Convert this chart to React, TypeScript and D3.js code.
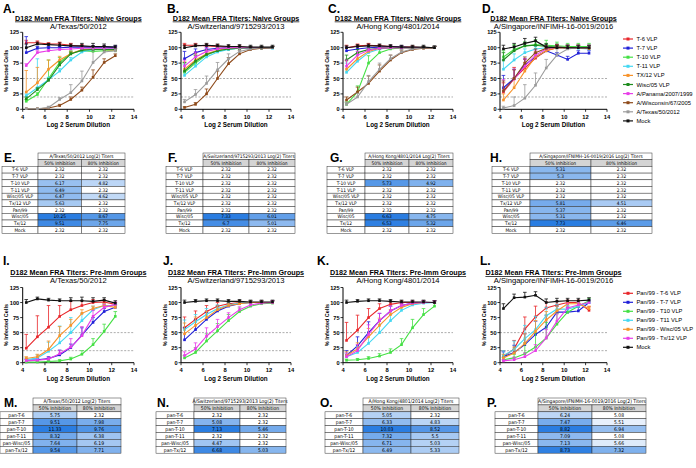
import React from "react";
import * as d3 from "d3";

// ---------- data ----------
const DILUTIONS = [4.32, 5.32, 6.32, 7.32, 8.32, 9.32, 10.32, 11.32, 12.32];
const X_TICKS = [4, 6, 8, 10, 12, 14];
const Y_TICKS = [0, 25, 50, 75, 100, 125];
const CUTOFFS = [50, 20];

const NAIVE_SERIES = ["T-6 VLP", "T-7 VLP", "T-10 VLP", "T-11 VLP", "TX/12 VLP", "Wisc/05 VLP", "A/Panama/2007/1999", "A/Wisconsin/67/2005", "A/Texas/50/2012", "Mock"];
const NAIVE_COLORS = ["#e8262a", "#2020d8", "#44e044", "#44d8f2", "#f7932b", "#1f8c1f", "#e83ee8", "#8e4a1a", "#9b9b9b", "#111111"];
const PREIMM_SERIES = ["Pan/99 - T-6 VLP", "Pan/99 - T-7 VLP", "Pan/99 - T10 VLP", "Pan/99 - T11 VLP", "Pan/99 - Wisc/05 VLP", "Pan/99 - Tx/12 VLP", "Mock"];
const PREIMM_COLORS = ["#e8262a", "#2020d8", "#44e044", "#44d8f2", "#f7932b", "#e83ee8", "#111111"];

const NAIVE_TITLE = "D182 Mean FRA Titers: Naive Groups";
const PREIMM_TITLE = "D182 Mean FRA Titers: Pre-Imm Groups";
const VIRUSES = ["A/Texas/50/2012", "A/Switzerland/9715293/2013", "A/Hong Kong/4801/2014", "A/Singapore/INFIMH-16-0019/2016"];
const TABLE_TITLES = ["A/Texas/50/2012 Log(2) Titers", "A/Switzerland/9715293/2013 Log(2) Titers", "A/Hong Kong/4801/2014 Log(2) Titers", "A/Singapore/IFNIMH-16-0019/2016 Log(2) Titers"];
const COL_HEADERS = ["50% Inhibition", "80% Inhibition"];
const NAIVE_ROWS = ["T-6 VLP", "T-7 VLP", "T-10 VLP", "T-11 VLP", "Wisc/05 VLP", "Tx/12 VLP", "Pan/99", "Wisc/05", "Tx/12", "Mock"];
const PREIMM_ROWS = ["pan-T-6", "pan-T-7", "pan-T-10", "pan-T-11", "pan-Wisc/05", "pan-Tx/12"];

// Panel A: naive vs A/Texas/50/2012
const A_VALUES = [
  [108, 108, 106, 106, 104, 102, 101, 101, 100],
  [92, 99, 100, 100, 101, 101, 101, 101, 101],
  [13, 24, 50, 76, 91, 95, 94, 95, 95],
  [22, 35, 48, 62, 80, 93, 97, 98, 99],
  [28, 43, 65, 80, 90, 97, 98, 97, 96],
  [17, 32, 47, 72, 90, 96, 97, 97, 97],
  [71, 92, 95, 97, 98, 99, 99, 99, 99],
  [1, 1, 2, 6, 16, 31, 52, 76, 87],
  [1, 1, 3, 16, 27, 46, 76, 93, 95],
  [100, 106, 105, 104, 103, 103, 102, 102, 101],
];
const A_ERRORS = [
  [4, 3, 2, 3, 3, 3, 2, 2, 2],
  [26, 3, 2, 2, 2, 2, 2, 2, 2],
  [3, 3, 30, 8, 4, 3, 3, 3, 3],
  [3, 47, 4, 4, 4, 3, 2, 2, 2],
  [35, 25, 15, 6, 4, 3, 2, 2, 2],
  [3, 3, 3, 5, 3, 3, 2, 2, 2],
  [3, 3, 2, 2, 2, 2, 2, 2, 2],
  [0, 0, 1, 2, 4, 5, 12, 6, 3],
  [0, 0, 2, 3, 13, 16, 25, 10, 4],
  [6, 3, 2, 4, 3, 4, 5, 4, 3],
];
// Panel B: naive vs A/Switzerland
const B_VALUES = [
  [104, 104, 103, 102, 101, 101, 100, 100, 100],
  [82, 92, 97, 99, 100, 100, 100, 100, 100],
  [60, 75, 88, 95, 98, 99, 100, 100, 100],
  [55, 70, 85, 93, 97, 99, 99, 99, 99],
  [65, 80, 90, 96, 99, 100, 100, 100, 100],
  [62, 78, 89, 95, 98, 99, 100, 100, 100],
  [70, 85, 94, 98, 100, 100, 100, 100, 100],
  [3, 8, 25, 50, 74, 90, 97, 99, 100],
  [12, 24, 42, 64, 82, 94, 98, 100, 100],
  [100, 103, 104, 103, 102, 102, 101, 101, 101],
];
const B_ERRORS = [
  [3, 3, 3, 3, 2, 2, 2, 2, 2],
  [12, 6, 4, 3, 2, 2, 2, 2, 2],
  [15, 12, 8, 5, 3, 2, 2, 2, 2],
  [18, 14, 8, 5, 3, 2, 2, 2, 2],
  [12, 10, 6, 4, 3, 2, 2, 2, 2],
  [14, 10, 6, 4, 3, 2, 2, 2, 2],
  [10, 8, 5, 3, 2, 2, 2, 2, 2],
  [1, 3, 8, 12, 10, 6, 3, 2, 2],
  [4, 8, 12, 12, 8, 5, 3, 2, 2],
  [4, 3, 3, 3, 3, 3, 3, 3, 3],
];
// Panel C: naive vs A/Hong Kong
const C_VALUES = [
  [100, 103, 104, 103, 102, 101, 101, 100, 100],
  [95, 98, 100, 101, 101, 101, 100, 100, 100],
  [8, 28, 75, 92, 98, 100, 100, 100, 100],
  [60, 78, 92, 98, 100, 100, 100, 100, 100],
  [65, 82, 94, 99, 100, 100, 100, 100, 100],
  [80, 92, 97, 99, 100, 100, 100, 100, 100],
  [70, 88, 96, 99, 100, 100, 100, 100, 100],
  [15, 28, 42, 62, 80, 92, 97, 99, 100],
  [8, 20, 45, 65, 82, 93, 98, 100, 100],
  [100, 102, 103, 103, 102, 101, 101, 101, 100],
];
const C_ERRORS = [
  [4, 3, 3, 2, 2, 2, 2, 2, 2],
  [6, 4, 3, 2, 2, 2, 2, 2, 2],
  [4, 10, 12, 5, 3, 2, 2, 2, 2],
  [15, 10, 5, 3, 2, 2, 2, 2, 2],
  [14, 8, 4, 2, 2, 2, 2, 2, 2],
  [8, 5, 3, 2, 2, 2, 2, 2, 2],
  [10, 6, 3, 2, 2, 2, 2, 2, 2],
  [5, 8, 12, 10, 8, 4, 2, 2, 2],
  [3, 6, 10, 10, 6, 4, 2, 2, 2],
  [3, 3, 3, 3, 3, 3, 3, 3, 3],
];
// Panel D: naive vs A/Singapore
const D_VALUES = [
  [28, 50, 67, 83, 95, 100, 100, 100, 100],
  [35, 50, 72, 85, 95, 88, 81, 91, 91],
  [85, 97, 103, 105, 104, 103, 102, 102, 102],
  [65, 80, 92, 98, 100, 101, 100, 99, 98],
  [15, 35, 62, 85, 95, 100, 100, 100, 99],
  [80, 95, 103, 104, 102, 101, 100, 100, 100],
  [30, 49, 70, 88, 98, 101, 100, 100, 100],
  [30, 50, 75, 92, 99, 101, 100, 100, 99],
  [2, 6, 18, 39, 67, 88, 98, 100, 100],
  [98, 101, 107, 111, 101, 100, 100, 100, 100],
];
const D_ERRORS = [
  [15, 18, 14, 8, 5, 4, 3, 3, 3],
  [20, 15, 10, 6, 4, 4, 5, 4, 4],
  [10, 8, 6, 8, 8, 6, 5, 5, 5],
  [15, 10, 6, 4, 4, 4, 4, 4, 4],
  [10, 15, 14, 8, 5, 4, 4, 4, 4],
  [12, 8, 6, 6, 5, 5, 4, 4, 4],
  [18, 16, 12, 8, 5, 4, 4, 4, 4],
  [16, 14, 10, 6, 4, 4, 4, 4, 4],
  [3, 14, 22, 20, 14, 10, 6, 4, 4],
  [6, 6, 8, 6, 5, 4, 4, 4, 4],
];

// Panel I: pre-imm vs A/Texas
const I_VALUES = [
  [24, 43, 59, 77, 88, 95, 100, 101, 97],
  [4, 5, 7, 13, 25, 46, 67, 85, 92],
  [1, 1, 2, 3, 6, 14, 30, 52, 77],
  [5, 8, 19, 33, 50, 70, 88, 95, 95],
  [7, 10, 22, 45, 62, 82, 90, 95, 92],
  [3, 4, 6, 15, 26, 45, 77, 92, 97],
  [100, 106, 104, 103, 103, 103, 102, 104, 99],
];
const I_ERRORS = [
  [23, 35, 36, 18, 14, 8, 5, 3, 3],
  [2, 2, 3, 8, 6, 12, 8, 5, 5],
  [1, 1, 2, 2, 3, 6, 10, 12, 8],
  [3, 5, 15, 28, 25, 12, 6, 3, 3],
  [3, 4, 14, 15, 10, 6, 4, 3, 3],
  [2, 2, 3, 5, 14, 15, 10, 5, 4],
  [5, 3, 3, 3, 5, 6, 6, 4, 4],
];
// Panel J: pre-imm vs A/Switzerland
const J_VALUES = [
  [58, 72, 85, 94, 98, 100, 100, 100, 100],
  [38, 55, 72, 86, 94, 98, 100, 100, 100],
  [8, 17, 36, 53, 70, 85, 94, 98, 99],
  [55, 68, 80, 90, 96, 99, 100, 100, 100],
  [48, 62, 75, 88, 95, 98, 100, 100, 100],
  [12, 23, 44, 60, 75, 88, 96, 99, 100],
  [100, 102, 103, 103, 102, 102, 101, 101, 101],
];
const J_ERRORS = [
  [18, 14, 10, 6, 4, 3, 3, 3, 3],
  [20, 16, 12, 8, 5, 3, 3, 3, 3],
  [4, 8, 12, 12, 10, 6, 4, 3, 3],
  [16, 12, 10, 6, 4, 3, 3, 3, 3],
  [18, 14, 10, 6, 4, 3, 3, 3, 3],
  [6, 10, 14, 12, 8, 5, 3, 3, 3],
  [4, 3, 3, 3, 3, 3, 3, 3, 3],
];
// Panel K: pre-imm vs A/Hong Kong
const K_VALUES = [
  [37, 54, 75, 90, 97, 100, 100, 100, 100],
  [12, 28, 50, 70, 86, 95, 99, 100, 100],
  [4, 5, 7, 11, 17, 30, 58, 80, 94],
  [10, 17, 32, 50, 70, 87, 96, 99, 100],
  [12, 23, 43, 62, 80, 92, 98, 100, 100],
  [10, 20, 47, 70, 86, 95, 99, 100, 100],
  [100, 102, 103, 103, 102, 101, 101, 101, 100],
];
const K_ERRORS = [
  [30, 25, 15, 8, 4, 3, 3, 3, 3],
  [8, 15, 18, 12, 8, 4, 3, 3, 3],
  [2, 2, 3, 4, 6, 10, 14, 10, 5],
  [6, 10, 14, 14, 10, 6, 3, 3, 3],
  [6, 10, 14, 12, 8, 5, 3, 3, 3],
  [6, 10, 16, 12, 8, 4, 3, 3, 3],
  [4, 3, 3, 3, 3, 3, 3, 3, 3],
];
// Panel L: pre-imm vs A/Singapore
const L_VALUES = [
  [10, 23, 56, 76, 91, 96, 100, 100, 87],
  [10, 17, 30, 47, 59, 84, 84, 86, 100],
  [5, 8, 15, 26, 41, 64, 84, 94, 103],
  [12, 22, 40, 55, 78, 89, 89, 94, 100],
  [8, 16, 32, 52, 71, 86, 98, 98, 90],
  [3, 5, 10, 20, 41, 69, 91, 96, 100],
  [90, 108, 109, 112, 100, 102, 103, 103, 104],
];
const L_ERRORS = [
  [10, 14, 20, 18, 10, 6, 4, 4, 6],
  [8, 12, 18, 22, 20, 10, 8, 6, 4],
  [4, 6, 18, 24, 26, 18, 10, 6, 4],
  [8, 14, 22, 22, 14, 8, 6, 5, 4],
  [6, 10, 16, 18, 14, 8, 5, 4, 4],
  [2, 4, 6, 10, 14, 12, 8, 5, 4],
  [8, 6, 8, 6, 6, 5, 4, 4, 4],
];

// Tables
const E_50 = [2.32, 2.32, 6.17, 6.49, 6.47, 5.63, 2.32, 10.25, 9.51, 2.32];
const E_80 = [2.32, 2.32, 4.82, 2.32, 4.62, 2.32, 2.32, 8.67, 7.75, 2.32];
const F_50 = [2.32, 2.32, 2.32, 2.32, 2.32, 2.32, 2.32, 7.33, 6.7, 2.32];
const F_80 = [2.32, 2.32, 2.32, 2.32, 2.32, 2.32, 2.32, 6.01, 5.01, 2.32];
const G_50 = [2.32, 2.32, 5.73, 2.32, 2.32, 2.32, 2.32, 6.63, 6.53, 2.32];
const G_80 = [2.32, 2.32, 4.92, 2.32, 2.32, 2.32, 2.32, 4.75, 5.32, 2.32];
const H_50 = [5.31, 5.3, 2.32, 2.32, 2.32, 5.81, 5.37, 5.31, 7.73, 2.32];
const H_80 = [2.32, 2.32, 2.32, 2.32, 2.32, 4.51, 2.32, 2.32, 6.46, 2.32];
const M_50 = [5.75, 9.51, 11.33, 8.32, 7.64, 9.54];
const M_80 = [2.32, 7.98, 9.76, 6.38, 6.19, 7.71];
const N_50 = [2.32, 5.08, 7.13, 2.32, 4.47, 6.68];
const N_80 = [2.32, 2.32, 5.46, 2.32, 2.32, 5.03];
const O_50 = [5.05, 6.33, 10.03, 7.32, 6.71, 6.49];
const O_80 = [2.32, 4.83, 8.52, 5.5, 5.03, 5.33];
const P_50 = [6.24, 7.47, 8.82, 7.09, 7.13, 8.73];
const P_80 = [5.08, 5.51, 6.94, 5.08, 5.66, 7.32];

// ---------- layout ----------
const W = 696, H = 468;
const SANS = "Liberation Sans, Arial, Helvetica, sans-serif";
const NARROW = "'Liberation Sans Narrow', 'Arial Narrow', 'DejaVu Sans Condensed', 'Liberation Sans', sans-serif";
const COLS = [
  { x0: 22.7, w: 111.3 },
  { x0: 181, w: 110 },
  { x0: 343, w: 110 },
  { x0: 500, w: 107 },
];
const ROW_TOP = { yTop: 32.3, yBottom: 109.3, titleY: 20.5, subY: 28.6, letterY: 12.5, tickY: 119.2, xTitleY: 126.8 };
const ROW_BOT = { yTop: 287.5, yBottom: 362.7, titleY: 275.2, subY: 283.4, letterY: 264.5, tickY: 371.5, xTitleY: 380.6 };
const TOP_LETTER_X = [3, 167, 328, 482];
const BOT_LETTER_X = [3, 163, 317, 480];

type ChartProps = {
  col: { x0: number; w: number };
  row: typeof ROW_TOP;
  values: number[][];
  errors: number[][];
  colors: string[];
  title: string;
  subtitle: string;
  letter: string;
  letterX: number;
};

function Chart({ col, row, values, errors, colors, title, subtitle, letter, letterX }: ChartProps) {
  const x = d3.scaleLinear().domain([4, 14]).range([col.x0, col.x0 + col.w]);
  const y = d3.scaleLinear().domain([0, 125]).range([row.yBottom, row.yTop]);
  const line = d3
    .line<number>()
    .x((_, i) => x(DILUTIONS[i]))
    .y((d) => y(d));
  const cx = col.x0 + col.w / 2;
  return (
    <g>
      <text x={letterX} y={row.letterY} fontFamily={SANS} fontWeight="bold" fontSize={12}>
        {letter}
      </text>
      <text x={cx} y={row.titleY} textAnchor="middle" fontFamily={SANS} fontWeight="bold" fontSize={7.2} textDecoration="underline">
        {title}
      </text>
      <text x={cx} y={row.subY} textAnchor="middle" fontFamily={SANS} fontSize={7.6}>
        {subtitle}
      </text>
      {CUTOFFS.map((c) => (
        <line key={c} x1={x(4)} x2={x(14)} y1={y(c)} y2={y(c)} stroke="#8a8a8a" strokeWidth={0.7} strokeDasharray="2,1.5" />
      ))}
      <line x1={x(4)} x2={x(4)} y1={y(0)} y2={y(125)} stroke="#000" strokeWidth={1} />
      <line x1={x(4)} x2={x(14)} y1={y(0)} y2={y(0)} stroke="#000" strokeWidth={1} />
      {Y_TICKS.map((t) => (
        <g key={"y" + t}>
          <line x1={x(4) - 2.5} x2={x(4)} y1={y(t)} y2={y(t)} stroke="#000" strokeWidth={0.8} />
          <text x={x(4) - 3.5} y={y(t) + 2} textAnchor="end" fontFamily={SANS} fontWeight="bold" fontSize={5.6}>
            {t}
          </text>
        </g>
      ))}
      {X_TICKS.map((t) => (
        <g key={"x" + t}>
          <line x1={x(t)} x2={x(t)} y1={y(0)} y2={y(0) + 2.5} stroke="#000" strokeWidth={0.8} />
          <text x={x(t)} y={row.tickY} textAnchor="middle" fontFamily={SANS} fontWeight="bold" fontSize={5.8}>
            {t}
          </text>
        </g>
      ))}
      <text
        transform={`translate(${x(4) - 14.5},${(y(0) + y(125)) / 2}) rotate(-90)`}
        textAnchor="middle"
        fontFamily={SANS}
        fontWeight="bold"
        fontSize={5.5}
      >
        % Infected Cells
      </text>
      <text x={cx} y={row.xTitleY} textAnchor="middle" fontFamily={SANS} fontWeight="bold" fontSize={6.3}>
        Log 2 Serum Dilution
      </text>
      {values.map((vals, si) => (
        <g key={si}>
          {vals.map((v, i) => {
            const e = errors[si][i];
            if (!e) return null;
            const px = x(DILUTIONS[i]);
            return (
              <g key={i}>
                <line x1={px} x2={px} y1={y(v)} y2={y(v + e)} stroke={colors[si]} strokeWidth={0.8} />
                <line x1={px - 1.8} x2={px + 1.8} y1={y(v + e)} y2={y(v + e)} stroke={colors[si]} strokeWidth={0.8} />
              </g>
            );
          })}
          <path d={line(vals) || ""} fill="none" stroke={colors[si]} strokeWidth={1.1} />
          {vals.map((v, i) => (
            <rect key={i} x={x(DILUTIONS[i]) - 1.3} y={y(v) - 1.3} width={2.6} height={2.6} fill={colors[si]} />
          ))}
        </g>
      ))}
    </g>
  );
}

function Legend({ names, colors, x0, y0, step }: { names: string[]; colors: string[]; x0: number; y0: number; step: number }) {
  return (
    <g>
      {names.map((n, i) => (
        <g key={n}>
          <line x1={x0} x2={x0 + 10} y1={y0 + i * step} y2={y0 + i * step} stroke={colors[i]} strokeWidth={1.2} />
          <rect x={x0 + 5 - 1.5} y={y0 + i * step - 1.5} width={3} height={3} fill={colors[i]} />
          <text x={x0 + 13.5} y={y0 + i * step + 2} fontFamily={SANS} fontSize={5.8}>
            {n}
          </text>
        </g>
      ))}
    </g>
  );
}

type TableGeom = { x0: number; labelW: number; colW: number; top: number; rowH: number; font: number; letter: string; letterX: number };

function Table({ g, title, labels, v50, v80 }: { g: TableGeom; title: string; labels: string[]; v50: number[]; v80: number[] }) {
  const all = [...v50, ...v80];
  const color = d3
    .scaleLinear<string>()
    .domain([d3.min(all) as number, d3.max(all) as number])
    .range(["#ffffff", "#2a7de1"])
    .interpolate(d3.interpolateRgb);
  const c1 = g.x0 + g.labelW;
  const c2 = c1 + g.colW;
  const c3 = c2 + g.colW;
  const ty = (r: number) => g.top + r * g.rowH;
  const tb = (r: number) => ty(r) + g.rowH / 2 + g.font * 0.36;
  const sw = 0.5;
  return (
    <g fontFamily={NARROW} fontSize={g.font}>
      <text x={g.letterX} y={ty(0) + 8.5} fontFamily={SANS} fontWeight="bold" fontSize={12}>
        {g.letter}
      </text>
      <rect x={c1} y={ty(0)} width={c3 - c1} height={g.rowH} fill="#fff" stroke="#333" strokeWidth={sw} />
      <text x={(c1 + c3) / 2} y={tb(0)} textAnchor="middle">
        {title}
      </text>
      {COL_HEADERS.map((h, k) => (
        <g key={h}>
          <rect x={c1 + k * g.colW} y={ty(1)} width={g.colW} height={g.rowH} fill="#d4d4d4" stroke="#333" strokeWidth={sw} />
          <text x={c1 + k * g.colW + g.colW / 2} y={tb(1)} textAnchor="middle">
            {h}
          </text>
        </g>
      ))}
      {labels.map((lab, i) => (
        <g key={lab + i}>
          <rect x={g.x0} y={ty(i + 2)} width={g.labelW} height={g.rowH} fill="#fff" stroke="#333" strokeWidth={sw} />
          <text x={g.x0 + g.labelW / 2} y={tb(i + 2)} textAnchor="middle">
            {lab}
          </text>
          {[v50[i], v80[i]].map((v, k) => (
            <g key={k}>
              <rect x={c1 + k * g.colW} y={ty(i + 2)} width={g.colW} height={g.rowH} fill={color(v)} stroke="#333" strokeWidth={sw} />
              <text x={c1 + k * g.colW + g.colW / 2} y={tb(i + 2)} textAnchor="middle">
                {String(v)}
              </text>
            </g>
          ))}
        </g>
      ))}
    </g>
  );
}

const TOP_TABLE_GEOMS: TableGeom[] = [
  { x0: 2, labelW: 36, colW: 43.5, top: 153, rowH: 6.7, font: 4.8, letter: "E.", letterX: 4 },
  { x0: 166, labelW: 37, colW: 46, top: 153, rowH: 6.7, font: 4.8, letter: "F.", letterX: 168 },
  { x0: 327, labelW: 38, colW: 44, top: 153, rowH: 6.7, font: 4.8, letter: "G.", letterX: 330 },
  { x0: 492, labelW: 38, colW: 61, top: 153, rowH: 6.7, font: 4.8, letter: "H.", letterX: 490 },
];
const BOT_TABLE_GEOMS: TableGeom[] = [
  { x0: 0, labelW: 33, colW: 44, top: 398, rowH: 6.9, font: 5, letter: "M.", letterX: 4 },
  { x0: 156, labelW: 38, colW: 46, top: 398, rowH: 6.9, font: 5, letter: "N.", letterX: 157 },
  { x0: 325, labelW: 38, colW: 48, top: 398, rowH: 6.9, font: 5, letter: "O.", letterX: 320 },
  { x0: 495, labelW: 43, colW: 54, top: 398, rowH: 6.9, font: 5, letter: "P.", letterX: 487 },
];

export default function App() {
  const topVals = [A_VALUES, B_VALUES, C_VALUES, D_VALUES];
  const topErrs = [A_ERRORS, B_ERRORS, C_ERRORS, D_ERRORS];
  const botVals = [I_VALUES, J_VALUES, K_VALUES, L_VALUES];
  const botErrs = [I_ERRORS, J_ERRORS, K_ERRORS, L_ERRORS];
  const topLetters = ["A.", "B.", "C.", "D."];
  const botLetters = ["I.", "J.", "K.", "L."];
  const top50 = [E_50, F_50, G_50, H_50];
  const top80 = [E_80, F_80, G_80, H_80];
  const bot50 = [M_50, N_50, O_50, P_50];
  const bot80 = [M_80, N_80, O_80, P_80];
  return (
    <div style={{ position: "absolute", left: 0, top: 0, width: W, height: H, background: "#fff" }}>
      <svg width={W} height={H} viewBox={`0 0 ${W} ${H}`} style={{ display: "block" }}>
        <rect width={W} height={H} fill="#fff" />
        {COLS.map((col, k) => (
          <Chart
            key={"t" + k}
            col={col}
            row={ROW_TOP}
            values={topVals[k]}
            errors={topErrs[k]}
            colors={NAIVE_COLORS}
            title={NAIVE_TITLE}
            subtitle={VIRUSES[k]}
            letter={topLetters[k]}
            letterX={TOP_LETTER_X[k]}
          />
        ))}
        {COLS.map((col, k) => (
          <Chart
            key={"b" + k}
            col={col}
            row={ROW_BOT}
            values={botVals[k]}
            errors={botErrs[k]}
            colors={PREIMM_COLORS}
            title={PREIMM_TITLE}
            subtitle={VIRUSES[k]}
            letter={botLetters[k]}
            letterX={BOT_LETTER_X[k]}
          />
        ))}
        <Legend names={NAIVE_SERIES} colors={NAIVE_COLORS} x0={623} y0={39} step={9.1} />
        <Legend names={PREIMM_SERIES} colors={PREIMM_COLORS} x0={623} y0={293.3} step={9} />
        {TOP_TABLE_GEOMS.map((g, k) => (
          <Table key={"tt" + k} g={g} title={TABLE_TITLES[k]} labels={NAIVE_ROWS} v50={top50[k]} v80={top80[k]} />
        ))}
        {BOT_TABLE_GEOMS.map((g, k) => (
          <Table key={"bt" + k} g={g} title={TABLE_TITLES[k]} labels={PREIMM_ROWS} v50={bot50[k]} v80={bot80[k]} />
        ))}
      </svg>
    </div>
  );
}
